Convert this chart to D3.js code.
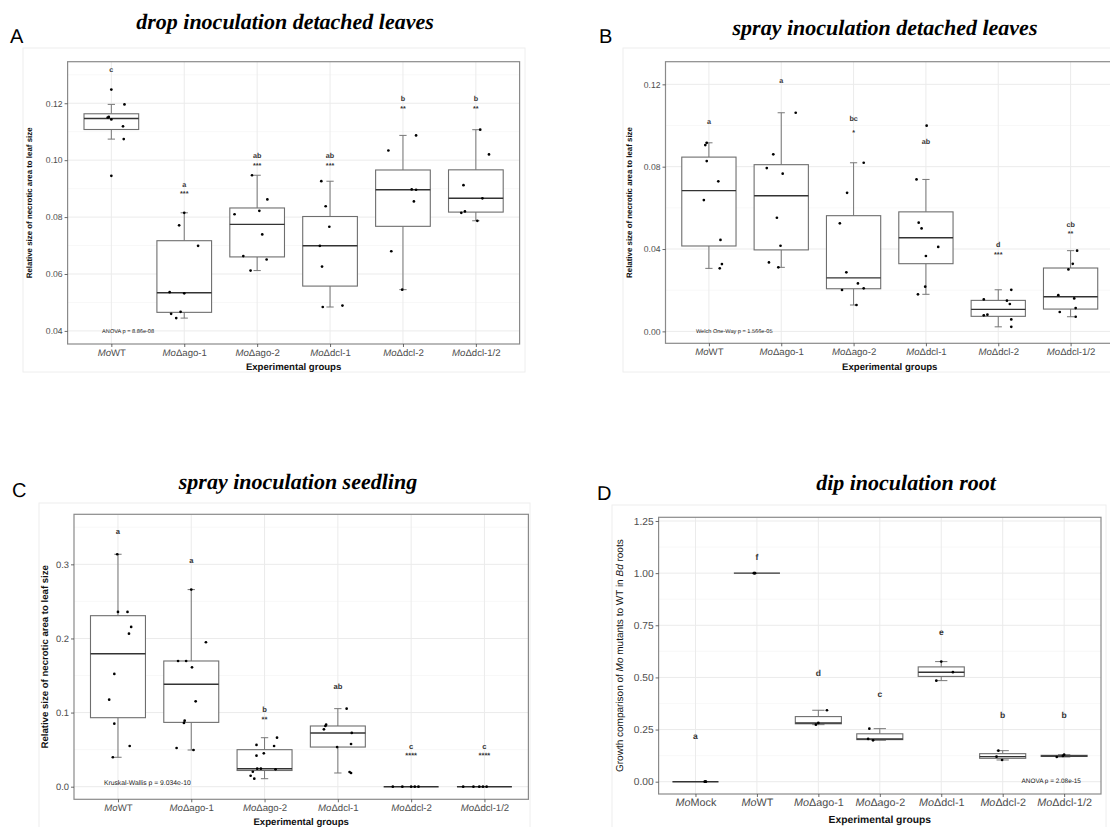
<!DOCTYPE html>
<html><head><meta charset="utf-8">
<script src="https://cdn.jsdelivr.net/npm/d3@7/dist/d3.min.js"></script>
<style>body{margin:0;background:#fff}svg{display:block}text{text-rendering:geometricPrecision}</style>
</head><body>
<svg id="chart" width="1110" height="827"></svg>
<script>
// ---------- DATA ----------
const groupsLeaf = ["WT", "\u0394ago-1", "\u0394ago-2", "\u0394dcl-1", "\u0394dcl-2", "\u0394dcl-1/2"];
const groupsRoot = ["Mock", "WT", "\u0394ago-1", "\u0394ago-2", "\u0394dcl-1", "\u0394dcl-2", "\u0394dcl-1/2"];

// Panel A: drop inoculation detached leaves
const valuesA = [
  [0.1248, 0.1196, 0.1150, 0.1152, 0.1143, 0.1119, 0.1074, 0.0945],
  [0.0815, 0.0771, 0.0699, 0.0536, 0.0532, 0.0460, 0.0467, 0.0445],
  [0.0947, 0.0862, 0.0810, 0.0822, 0.0739, 0.0663, 0.0651, 0.0612],
  [0.0926, 0.0838, 0.0766, 0.0699, 0.0626, 0.0484, 0.0489],
  [0.1087, 0.1034, 0.0897, 0.0896, 0.0855, 0.0680, 0.0545],
  [0.1107, 0.1020, 0.0912, 0.0866, 0.0815, 0.0820, 0.0787]
];
const jitterA = [
  [0, 0.18, -0.05, -0.035, 0, 0.16, 0.17, 0],
  [0, -0.07, 0.19, -0.2, 0, -0.18, -0.05, -0.11],
  [-0.07, 0.14, -0.31, 0.03, 0.07, -0.19, 0.13, -0.09],
  [-0.12, -0.06, -0.01, -0.14, -0.11, -0.1, 0.17],
  [0.18, -0.2, 0.12, 0.18, 0.15, -0.16, -0.01],
  [0.06, 0.18, -0.17, 0.09, -0.2, -0.15, 0.02]
];
const lettersA = ["c", "a", "ab", "ab", "b", "b"];
const letterValA = [0.1317, 0.0915, 0.1017, 0.1017, 0.1218, 0.1218];
const starsA = ["", "***", "***", "***", "**", "**"];
const starValA = [0, 0.0887, 0.0988, 0.0988, 0.1188, 0.1188];
const ticksA = [0.04, 0.06, 0.08, 0.10, 0.12];
const tickLabelsA = ["0.04", "0.06", "0.08", "0.10", "0.12"];
const limitsA = [0.0354, 0.1346];

// Panel B: spray inoculation detached leaves
const valuesB = [
  [0.0916, 0.0905, 0.0827, 0.0729, 0.0638, 0.0444, 0.0327, 0.0306],
  [0.1062, 0.0860, 0.0793, 0.0766, 0.0552, 0.0416, 0.0335, 0.0311],
  [0.0819, 0.0673, 0.0525, 0.0287, 0.0233, 0.0201, 0.0209, 0.0128],
  [0.0999, 0.0738, 0.0528, 0.0500, 0.0410, 0.0366, 0.0217, 0.0180],
  [0.0202, 0.0155, 0.0149, 0.0133, 0.0078, 0.0081, 0.0058, 0.0022],
  [0.0392, 0.0328, 0.0301, 0.0176, 0.0160, 0.0113, 0.0094, 0.0071]
];
const jitterB = [
  [-0.03, -0.05, -0.03, 0.13, -0.07, 0.16, 0.18, 0.15],
  [0.2, -0.11, -0.2, 0.02, -0.06, -0.01, -0.17, -0.04],
  [0.14, -0.09, -0.19, -0.1, 0.06, -0.16, 0.14, 0.04],
  [0.01, -0.13, -0.1, -0.06, 0.17, 0, -0.01, -0.11],
  [0.18, -0.2, 0.12, 0.16, -0.2, -0.15, 0.18, 0.18],
  [0.09, 0.03, -0.03, -0.17, 0.05, 0.07, -0.15, 0.07]
];
const lettersB = ["a", "a", "bc", "ab", "d", "cb"];
const letterValB = [0.1018, 0.1221, 0.1035, 0.0921, 0.0424, 0.0521];
const starsB = ["", "", "*", "", "***", "**"];
const starValB = [0, 0, 0.0975, 0, 0.0382, 0.0481];
const ticksB = [0.00, 0.04, 0.08, 0.12];
const tickLabelsB = ["0.00", "0.04", "0.08", "0.12"];
const limitsB = [-0.0058, 0.131];

// Panel C: spray inoculation seedling
const valuesC = [
  [0.3136, 0.2358, 0.2358, 0.2155, 0.2065, 0.1521, 0.1174, 0.0850, 0.0549, 0.0397],
  [0.2659, 0.1949, 0.1696, 0.1696, 0.1611, 0.1152, 0.0891, 0.0860, 0.0522, 0.0495],
  [0.0661, 0.0563, 0.0549, 0.0450, 0.0418, 0.0243, 0.0243, 0.0235, 0.0202, 0.0148, 0.0108],
  [0.1053, 0.0837, 0.0819, 0.0774, 0.0725, 0.0576, 0.0535, 0.0198, 0.0185],
  [0, 0, 0, 0, 0],
  [0, 0, 0, 0, 0]
];
const jitterC = [
  [-0.01, 0, 0.13, 0.18, 0.15, -0.05, -0.12, -0.05, 0.16, -0.07],
  [0, 0.2, -0.18, -0.07, 0.01, 0.06, -0.09, -0.1, -0.2, 0.03],
  [0.17, -0.11, 0.13, -0.01, -0.11, -0.1, -0.05, 0.15, -0.16, -0.19, -0.14],
  [0.12, -0.16, -0.17, -0.19, 0.19, 0.18, -0.01, 0.16, 0.18],
  [-0.25, -0.12, 0, 0.05, 0.1],
  [-0.29, -0.15, -0.07, -0.02, 0.03]
];
const lettersC = ["a", "a", "b", "ab", "c", "c"];
const letterValC = [0.345, 0.3054, 0.1048, 0.1349, 0.0545, 0.0545];
const starsC = ["", "", "**", "", "****", "****"];
const starValC = [0, 0, 0.0936, 0, 0.0441, 0.0441];
const ticksC = [0.0, 0.1, 0.2, 0.3];
const tickLabelsC = ["0.0", "0.1", "0.2", "0.3"];
const limitsC = [-0.017, 0.3675];

// Panel D: dip inoculation root
const valuesD = [
  [0, 0, 0],
  [1, 1, 1],
  [0.3426, 0.2817, 0.2735],
  [0.2543, 0.2049, 0.1985],
  [0.5758, 0.5250, 0.4846],
  [0.1488, 0.1200, 0.1041],
  [0.1296, 0.1185, 0.1234]
];
const jitterD = [
  [0.16, 0.15, 0.17],
  [-0.04, -0.05, -0.03],
  [0.14, 0, -0.04],
  [-0.17, -0.19, -0.11],
  [0, 0.19, -0.08],
  [-0.07, -0.1, -0.01],
  [0, -0.12, -0.02]
];
const lettersD = ["a", "f", "d", "c", "e", "b", "b"];
const letterValD = [0.2177, 1.0788, 0.5226, 0.419, 0.7192, 0.3198, 0.3198];
const starsD = ["", "", "", "", "", "", ""];
const starValD = [0, 0, 0, 0, 0, 0, 0];
const ticksD = [0, 0.25, 0.5, 0.75, 1.0, 1.25];
const tickLabelsD = ["0.00", "0.25", "0.50", "0.75", "1.00", "1.25"];
const limitsD = [-0.059, 1.2677];

// ---------- DRAWING ----------
const svg = d3.select("#chart");
const SANS = "'Liberation Sans', Arial, sans-serif";
const SERIF = "'Liberation Serif', 'Times New Roman', serif";

function drawPanel(cfg) {
  const g = svg.append("g");
  const n = cfg.groups.length;
  const x = d3.scalePoint().domain(d3.range(n)).range([cfg.left, cfg.right]).padding(0.6);
  const step = x.step();
  const y = d3.scaleLinear().domain(cfg.limits).range([cfg.bottom, cfg.top]);

  // outer faint plot background frame
  g.append("rect").attr("x", cfg.frame[0]).attr("y", cfg.frame[1])
    .attr("width", cfg.frame[2] - cfg.frame[0]).attr("height", cfg.frame[3] - cfg.frame[1])
    .attr("fill", "none").attr("stroke", "#eeeeee").attr("stroke-width", 1);

  // panel letter and title
  g.append("text").attr("x", cfg.letterX).attr("y", cfg.letterY)
    .attr("font-family", SANS).attr("font-size", 20).attr("fill", "#000").text(cfg.letter);
  g.append("text").attr("x", cfg.titleX).attr("y", cfg.titleY).attr("text-anchor", "middle")
    .attr("font-family", SERIF).attr("font-size", 22).attr("font-weight", "bold")
    .attr("font-style", "italic").attr("fill", "#000").text(cfg.title);

  // grid
  const t = cfg.ticks;
  const dt = t[1] - t[0];
  const minors = [];
  for (let v = t[0] - dt / 2; v <= cfg.limits[1]; v += dt) {
    if (v >= cfg.limits[0]) minors.push(v);
  }
  g.selectAll(null).data(minors).join("line")
    .attr("x1", cfg.left).attr("x2", cfg.right)
    .attr("y1", d => y(d)).attr("y2", d => y(d))
    .attr("stroke", "#f3f3f3").attr("stroke-width", 0.6);
  g.selectAll(null).data(t).join("line")
    .attr("x1", cfg.left).attr("x2", cfg.right)
    .attr("y1", d => y(d)).attr("y2", d => y(d))
    .attr("stroke", "#ebebeb").attr("stroke-width", 1);
  g.selectAll(null).data(d3.range(n)).join("line")
    .attr("x1", d => x(d)).attr("x2", d => x(d))
    .attr("y1", cfg.top).attr("y2", cfg.bottom)
    .attr("stroke", "#ebebeb").attr("stroke-width", 1);

  // boxes
  const boxHalf = step * 0.375;
  const capHalf = step * cfg.cap;
  cfg.values.forEach((vals, i) => {
    const s = vals.slice().sort(d3.ascending);
    const q1 = d3.quantile(s, 0.25), med = d3.quantile(s, 0.5), q3 = d3.quantile(s, 0.75);
    const iqr = q3 - q1;
    const lo = d3.min(s.filter(v => v >= q1 - 1.5 * iqr));
    const hi = d3.max(s.filter(v => v <= q3 + 1.5 * iqr));
    const cx = x(i);
    const wc = "#777777";
    if (hi > q3) {
      g.append("line").attr("x1", cx).attr("x2", cx).attr("y1", y(q3)).attr("y2", y(hi)).attr("stroke", wc).attr("stroke-width", 1);
      g.append("line").attr("x1", cx - capHalf).attr("x2", cx + capHalf).attr("y1", y(hi)).attr("y2", y(hi)).attr("stroke", wc).attr("stroke-width", 1);
    }
    if (lo < q1) {
      g.append("line").attr("x1", cx).attr("x2", cx).attr("y1", y(q1)).attr("y2", y(lo)).attr("stroke", wc).attr("stroke-width", 1);
      g.append("line").attr("x1", cx - capHalf).attr("x2", cx + capHalf).attr("y1", y(lo)).attr("y2", y(lo)).attr("stroke", wc).attr("stroke-width", 1);
    }
    g.append("rect").attr("x", cx - boxHalf).attr("y", y(q3))
      .attr("width", boxHalf * 2).attr("height", Math.max(0, y(q1) - y(q3)))
      .attr("fill", "#fff").attr("stroke", "#6e6e6e").attr("stroke-width", 1.1);
    g.append("line").attr("x1", cx - boxHalf).attr("x2", cx + boxHalf)
      .attr("y1", y(med)).attr("y2", y(med)).attr("stroke", "#333").attr("stroke-width", 1.4);
    // points
    g.selectAll(null).data(vals.map((v, k) => [v, cfg.jitter[i][k]])).join("circle")
      .attr("cx", d => cx + d[1] * step).attr("cy", d => y(d[0]))
      .attr("r", 1.35).attr("fill", "#000");
    // letters & stars
    g.append("text").attr("x", cx).attr("y", y(cfg.letterVals[i])).attr("dy", "0.35em")
      .attr("text-anchor", "middle").attr("font-family", SANS).attr("font-weight", "bold")
      .attr("font-size", cfg.letterSize).attr("fill", "#333").text(cfg.letters[i]);
    if (cfg.stars[i]) {
      g.append("text").attr("x", cx).attr("y", y(cfg.starVals[i])).attr("dy", "0.55em")
        .attr("text-anchor", "middle").attr("font-family", SANS).attr("font-weight", "bold")
        .attr("font-size", cfg.letterSize).attr("fill", "#333").text(cfg.stars[i]);
    }
  });

  // stat text
  g.append("text").attr("x", x(0) + cfg.stat.xi * step).attr("y", y(cfg.stat.v)).attr("dy", "0.35em")
    .attr("text-anchor", "middle").attr("font-family", SANS).attr("font-size", cfg.stat.size)
    .attr("fill", "#222").text(cfg.stat.text);

  // border
  g.append("rect").attr("x", cfg.left).attr("y", cfg.top)
    .attr("width", cfg.right - cfg.left).attr("height", cfg.bottom - cfg.top)
    .attr("fill", "none").attr("stroke", "#8a8a8a").attr("stroke-width", 1.2);

  // y axis
  const ya = g.append("g").attr("transform", `translate(${cfg.left},0)`)
    .call(d3.axisLeft(y).tickValues(cfg.ticks).tickSize(3).tickPadding(2)
      .tickFormat((d, k) => cfg.tickLabels[k]));
  ya.select(".domain").remove();
  ya.selectAll(".tick line").attr("stroke", "#444").attr("stroke-width", 0.8);
  ya.selectAll(".tick text").attr("font-family", SANS).attr("font-size", cfg.tickSize).attr("fill", "#4d4d4d");

  // x axis
  const xa = g.append("g").attr("transform", `translate(0,${cfg.bottom})`)
    .call(d3.axisBottom(x).tickSize(3).tickPadding(2).tickFormat(() => ""));
  xa.select(".domain").remove();
  xa.selectAll(".tick line").attr("stroke", "#444").attr("stroke-width", 0.8);
  xa.selectAll(".tick text").each(function (d) {
    const el = d3.select(this);
    el.text(null).attr("font-family", SANS).attr("font-size", cfg.catSize).attr("fill", "#4d4d4d")
      .attr("y", cfg.catDy).attr("dy", 0);
    el.append("tspan").attr("font-style", "italic").text("Mo");
    el.append("tspan").text(cfg.groups[d]);
  });

  // axis titles
  g.append("text").attr("x", (cfg.left + cfg.right) / 2).attr("y", cfg.xTitleY)
    .attr("text-anchor", "middle").attr("font-family", SANS).attr("font-weight", "bold")
    .attr("font-size", cfg.xTitleSize).attr("fill", "#111").text("Experimental groups");
  const yt = g.append("text")
    .attr("transform", `translate(${cfg.yTitleX},${(cfg.top + cfg.bottom) / 2}) rotate(-90)`)
    .attr("text-anchor", "middle").attr("font-family", SANS).attr("font-weight", cfg.yTitleWeight)
    .attr("font-size", cfg.yTitleSize).attr("fill", "#111");
  cfg.yTitle.forEach(p => yt.append("tspan").attr("font-style", p[1] ? "italic" : "normal").text(p[0]));
}

const yTitleLeaf = [["Relative size of necrotic area to leaf size", false]];

drawPanel({
  groups: groupsLeaf, values: valuesA, jitter: jitterA, letters: lettersA, letterVals: letterValA,
  stars: starsA, starVals: starValA, ticks: ticksA, tickLabels: tickLabelsA, limits: limitsA,
  left: 67.6, right: 519.6, top: 61.7, bottom: 344, frame: [23, 48, 525, 372],
  letter: "A", letterX: 10, letterY: 43, title: "drop inoculation detached leaves", titleX: 285, titleY: 28.5,
  cap: 0.05, letterSize: 7.2, tickSize: 8.6, catSize: 9.6, catDy: 11.5, xTitleY: 369.5, xTitleSize: 9.6,
  yTitle: yTitleLeaf, yTitleX: 32, yTitleSize: 7.9, yTitleWeight: "bold",
  stat: { text: "ANOVA p = 8.86e-08", xi: 0.23, v: 0.04, size: 5.6 }
});
drawPanel({
  groups: groupsLeaf, values: valuesB, jitter: jitterB, letters: lettersB, letterVals: letterValB,
  stars: starsB, starVals: starValB, ticks: ticksB, tickLabels: tickLabelsB, limits: limitsB,
  left: 665.5, right: 1114, top: 61.7, bottom: 343.3, frame: [623, 48, 1120, 372],
  letter: "B", letterX: 599, letterY: 43.3, title: "spray inoculation detached leaves", titleX: 885, titleY: 35,
  cap: 0.05, letterSize: 7.2, tickSize: 8.6, catSize: 9.6, catDy: 11.5, xTitleY: 369.5, xTitleSize: 9.6,
  yTitle: yTitleLeaf, yTitleX: 632, yTitleSize: 7.9, yTitleWeight: "bold",
  stat: { text: "Welch One-Way p = 1.566e-05", xi: 0.35, v: 0.0, size: 5.6 }
});
drawPanel({
  groups: groupsLeaf, values: valuesC, jitter: jitterC, letters: lettersC, letterVals: letterValC,
  stars: starsC, starVals: starValC, ticks: ticksC, tickLabels: tickLabelsC, limits: limitsC,
  left: 74, right: 528.4, top: 514.3, bottom: 799.3, frame: [39, 503, 530, 840],
  letter: "C", letterX: 12, letterY: 496.7, title: "spray inoculation seedling", titleX: 298, titleY: 488.5,
  cap: 0.05, letterSize: 7.6, tickSize: 9.4, catSize: 9.6, catDy: 11.5, xTitleY: 825, xTitleSize: 9.6,
  yTitle: yTitleLeaf, yTitleX: 48, yTitleSize: 9.6, yTitleWeight: "bold",
  stat: { text: "Kruskal-Wallis p = 9.034e-10", xi: 0.4, v: 0.005, size: 6.8 }
});
drawPanel({
  groups: groupsRoot, values: valuesD, jitter: jitterD, letters: lettersD, letterVals: letterValD,
  stars: starsD, starVals: starValD, ticks: ticksD, tickLabels: tickLabelsD, limits: limitsD,
  left: 658.6, right: 1101, top: 517.3, bottom: 794, frame: [612, 505, 1106, 840],
  letter: "D", letterX: 597, letterY: 500, title: "dip inoculation root", titleX: 906, titleY: 490,
  cap: 0.1, letterSize: 8.5, tickSize: 10.2, catSize: 10.8, catDy: 12, xTitleY: 823, xTitleSize: 10.3,
  yTitle: [["Growth comparison of ", false], ["Mo", true], [" mutants to WT in ", false], ["Bd", true], [" roots", false]],
  yTitleX: 623, yTitleSize: 10, yTitleWeight: "normal",
  stat: { text: "ANOVA p = 2.08e-15", xi: 5.79, v: 0.005, size: 6.4 }
});
</script>
</body></html>
